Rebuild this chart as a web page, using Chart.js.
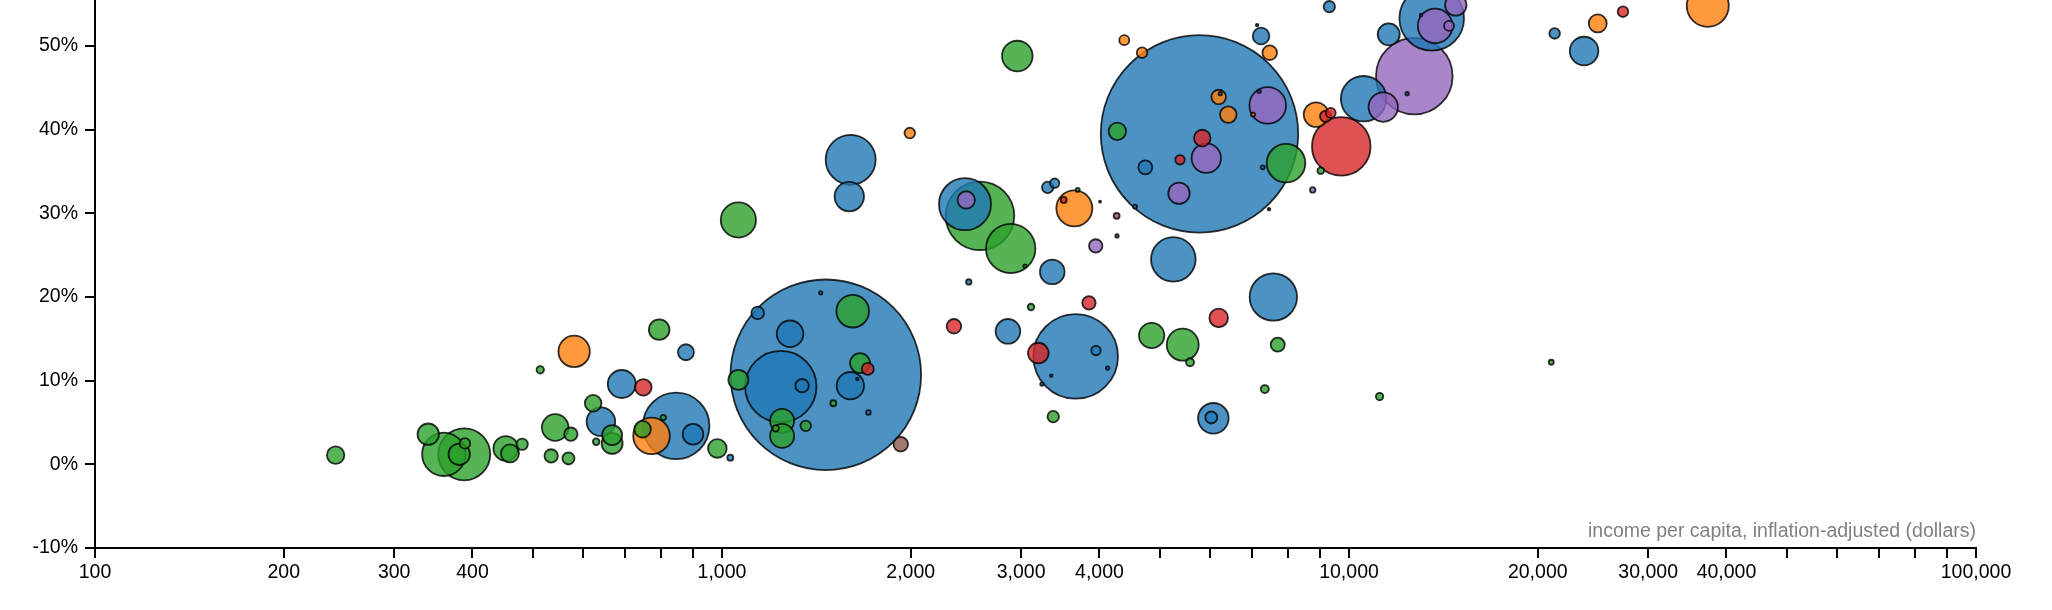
<!DOCTYPE html>
<html>
<head>
<meta charset="utf-8">
<title>Income per capita bubble chart</title>
<script src="https://cdn.jsdelivr.net/npm/chart.js@4.4.1/dist/chart.umd.min.js"></script>
<style>
    html, body { margin: 0; padding: 0; background: #fff; }
    #wrap { width: 2052px; height: 610px; }
</style>
</head>
<body>
<div id="wrap"><canvas id="chart" width="2052" height="610"></canvas></div>
<script>
// region index per bubble: 0 blue, 1 orange, 2 green, 3 red, 4 purple, 5 brown
const regions = ["Asia", "Americas", "Africa", "Middle East", "Europe", "Other"];

const region = [
    2, 2, 2, 2, 2, 2, 2, 2, 2, 1,
    2, 2, 2, 2, 2, 2, 0, 2, 2, 2,
    0, 2, 0, 3, 0, 1, 2, 2, 0, 2,
    0, 0, 0, 0, 0, 0, 2, 2, 3, 0,
    0, 2, 0, 2, 2, 2, 2, 2, 0, 5,
    0, 0, 2, 2, 0, 0, 3, 2, 3, 0,
    0, 3, 0, 0, 0, 0, 2, 2, 2, 0,
    4, 2, 1, 1, 1, 0, 0, 2, 4, 2,
    0, 0, 1, 3, 2, 0, 5, 0, 2, 0,
    3, 3, 4, 4, 1, 1, 4, 0, 1, 0,
    2, 0, 0, 0, 0, 0, 1, 0, 1, 3,
    3, 3, 2, 4, 0, 4, 0, 0, 3, 2,
    2, 2, 0, 0, 2, 0, 4, 4, 4, 4,
    0, 0, 0, 1, 3, 1, 2, 0
];

const income = [
    242, 340, 360, 388, 381, 389, 452, 459, 480, 581,
    513, 542, 574, 534, 569, 623, 641, 630, 668, 668,
    692, 794, 876, 749, 845, 772, 747, 806, 899, 983,
    1031, 1464, 1241, 1284, 1140, 1437, 1616, 1660, 1708, 1602,
    1644, 1062, 1342, 1247, 1247, 1218, 1360, 1505, 1712, 1928,
    1604, 1596, 1062, 2887, 3363, 2475, 3848, 3110, 2344, 2858,
    3665, 3195, 3949, 4122, 3350, 3238, 3375, 4845, 5430, 5246,
    3945, 2958, 1993, 4381, 4677, 5775, 2441, 2579, 2452, 3043,
    3307, 3393, 3647, 3508, 3693, 4008, 4260, 4266, 4271, 4733,
    5376, 5834, 5921, 5356, 6197, 6419, 7419, 7187, 7030, 6233,
    7935, 7286, 4558, 7455, 7240, 7135, 7474, 9303, 8860, 9180,
    9350, 9720, 9014, 8752, 10550, 11340, 11570, 7574, 6197, 5578,
    7697, 7340, 6076, 6031, 11190, 13550, 13720, 14440, 14800, 12710,
    12380, 21280, 23710, 24930, 27350, 37340, 21020, 13030
];

const share = [
    1.1, 3.6, 1.2, 1.2, 1.2, 2.5, 1.9, 1.3, 2.4, 13.5,
    11.3, 4.4, 3.6, 1.0, 0.7, 7.3, 5.1, 2.7, 3.5, 2.5,
    9.6, 16.1, 13.4, 9.2, 4.6, 3.4, 4.2, 5.6, 3.6, 1.9,
    0.8, 10.7, 9.3, 15.6, 18.1, 20.5, 18.3, 12.1, 11.4, 9.4,
    10.2, 10.1, 9.4, 5.2, 3.4, 4.3, 4.6, 7.3, 6.2, 2.4,
    36.4, 32.0, 29.2, 25.8, 23.0, 21.8, 19.3, 18.8, 16.5, 15.9,
    12.9, 13.3, 13.6, 11.5, 10.6, 9.6, 5.7, 15.4, 14.3, 24.5,
    26.1, 48.8, 39.6, 50.7, 49.2, 39.5, 31.1, 29.7, 31.6, 23.7,
    33.1, 33.6, 30.6, 31.6, 32.8, 31.4, 29.7, 27.3, 39.8, 35.5,
    36.4, 39.0, 36.6, 32.4, 43.9, 41.8, 42.9, 44.6, 41.8, 44.3,
    36.0, 35.5, 30.8, 30.5, 51.2, 52.5, 49.2, 54.7, 41.8, 41.6,
    42.0, 38.0, 35.1, 32.8, 43.7, 42.7, 51.4, 20.0, 17.5, 12.2,
    14.3, 9.0, 5.5, 5.6, 8.1, 53.3, 52.4, 52.4, 54.9, 46.4,
    44.3, 51.5, 49.4, 52.7, 54.1, 54.8, 12.2, 53.7
];

// population, millions
const population = [
    10.4, 15.7, 64.6, 92.7, 15.7, 3.85, 20.8, 11.1, 4.46, 33.8,
    1.88, 24.3, 6.16, 6.16, 4.94, 9.45, 28, 1.49, 13.7, 15.1,
    26.9, 14.6, 8.78, 9.45, 152, 45.9, 9.45, 1.0, 14.6, 11.9,
    1.23, 1246, 174.8, 24.3, 5.44, 0.4, 36.4, 13.7, 4.94, 25.7,
    0.23, 13.7, 6.16, 19.8, 19.8, 1.49, 3.85, 1.23, 0.73, 7.31,
    85.7, 29.6, 42.5, 83.7, 20.8, 1.0, 6.16, 1.49, 7.31, 20.8,
    245.5, 14.6, 3.03, 0.4, 0.23, 0.4, 4.46, 22.1, 35.1, 68.2,
    6.16, 32.1, 3.85, 3.43, 3.85, 1336, 92.7, 161.4, 10.4, 0.4,
    4.46, 3.03, 44.4, 1.23, 0.55, 0.14, 1.23, 0.4, 10.4, 6.72,
    3.03, 9.45, 29.6, 15.7, 7.31, 9.45, 45.9, 0.4, 0.55, 0.4,
    51.1, 0.55, 0.55, 0.23, 9.45, 0.23, 7.31, 4.46, 20.8, 4.46,
    3.43, 117.8, 1.49, 1.0, 70.7, 29.6, 16.6, 77, 11.9, 2.19,
    6.72, 2.19, 32.1, 4.94, 1.88, 143.1, 41.1, 3.43, 15.7, 201.2,
    0.4, 3.85, 28, 11.1, 3.85, 60.5, 0.86, 0.23
];

const xTicks = [
    100, 200, 300, 400, 500, 600, 700, 800, 900,
    1000, 2000, 3000, 4000, 5000, 6000, 7000, 8000, 9000,
    10000, 20000, 30000, 40000, 50000, 60000, 70000, 80000, 90000,
    100000
];
const xTickLabels = [
    "100", "200", "300", "400", "", "", "", "", "",
    "1,000", "2,000", "3,000", "4,000", "", "", "", "", "",
    "10,000", "20,000", "30,000", "40,000", "", "", "", "", "",
    "100,000"
];
const yTicks = [-10, 0, 10, 20, 30, 40, 50];
const yTickLabels = ["-10%", "0%", "10%", "20%", "30%", "40%", "50%"];
const xTitle = "income per capita, inflation-adjusted (dollars)";

const fills = [
    "rgba(31, 119, 180, 0.8)",
    "rgba(255, 127, 14, 0.8)",
    "rgba(44, 160, 44, 0.8)",
    "rgba(214, 39, 40, 0.8)",
    "rgba(148, 103, 189, 0.8)",
    "rgba(140, 86, 75, 0.8)"
];

// bigger bubbles first so the small ones stay visible on top
const points = income.map((v, i) => ({
    x: v,
    y: share[i],
    r: 2.7 * Math.sqrt(population[i]),
    region: region[i]
})).sort((a, b) => b.r - a.r);

const fontFamily = "'Liberation Sans', Arial, Helvetica, sans-serif";
const axisFont = { family: fontFamily, size: 19.5 };

const axisLines = {
    grid: {
        display: true,
        drawOnChartArea: false,
        drawTicks: true,
        tickLength: 10,
        color: "#000",
        lineWidth: 2
    },
    border: { display: true, color: "#000", width: 2 }
};

const xTitlePlugin = {
    id: "xTitle",
    afterDatasetsDraw(chart) {
        const { ctx, chartArea } = chart;
        ctx.save();
        ctx.font = "19.5px " + fontFamily;
        ctx.fillStyle = "#808080";
        ctx.textAlign = "right";
        ctx.textBaseline = "alphabetic";
        ctx.fillText(xTitle, chartArea.right, chartArea.bottom - 11);
        ctx.restore();
    }
};

const ctx = document.getElementById("chart").getContext("2d");

new Chart(ctx, {
    type: "bubble",
    data: {
        datasets: [
            {
                label: "countries",
                data: points,
                backgroundColor: points.map(p => fills[p.region]),
                borderColor: "rgba(0, 0, 0, 0.8)",
                borderWidth: 1.8,
                clip: false
            }
        ]
    },
    options: {
        responsive: false,
        devicePixelRatio: 1,
        animation: false,
        events: [],
        layout: {
            autoPadding: false,
            padding: { top: 0, right: 76, bottom: 0, left: 0 }
        },
        plugins: {
            legend: { display: false },
            tooltip: { enabled: false }
        },
        scales: {
            x: {
                type: "logarithmic",
                min: 100,
                max: 100000,
                afterBuildTicks: scale => {
                    scale.ticks = xTicks.map(v => ({ value: v }));
                },
                afterFit: scale => {
                    scale.height = 62;
                },
                ...axisLines,
                ticks: {
                    autoSkip: false,
                    maxRotation: 0,
                    padding: 3,
                    color: "#000",
                    font: axisFont,
                    callback: v => xTickLabels[xTicks.indexOf(v)]
                }
            },
            y: {
                type: "linear",
                min: -10,
                max: 55.5,
                afterBuildTicks: scale => {
                    scale.ticks = yTicks.map(v => ({ value: v }));
                },
                afterFit: scale => {
                    scale.width = 95;
                    // plot runs right up to the top edge
                    scale.paddingTop = 0;
                    scale.paddingBottom = 0;
                },
                ...axisLines,
                ticks: {
                    padding: 7,
                    color: "#000",
                    font: axisFont,
                    callback: v => yTickLabels[yTicks.indexOf(v)]
                }
            }
        }
    },
    plugins: [xTitlePlugin]
});
</script>
</body>
</html>
